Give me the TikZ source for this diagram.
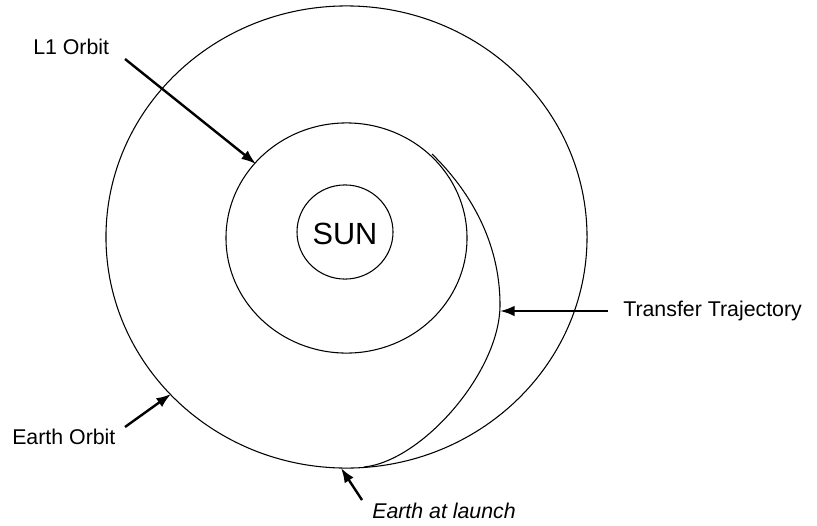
\documentclass[tikz,border=0pt]{standalone}
\usepackage{fontspec}
\setmainfont{Liberation Sans}
\usetikzlibrary{arrows.meta}
\begin{document}
\begin{tikzpicture}[x=0.75pt,y=-0.75pt,
  orbit/.style={draw=black,line width=0.8pt},
  pointer/.style={draw=black,line width=1.8pt,-{Latex[length=11pt,width=8pt]}},
  lbl/.style={inner sep=0pt,anchor=west,font=\fontsize{16}{19}\selectfont}]
\useasboundingbox (0,0) rectangle (817,525);
\coordinate (c) at (346.5,237);
\draw[orbit] (c) ellipse [x radius=180.4pt, y radius=173.3pt];
\draw[orbit] (346.5,238) ellipse [x radius=90.4pt, y radius=86.3pt];
\draw[orbit] (345,232) ellipse [x radius=36pt, y radius=35.3pt];
\node[inner sep=0pt,font=\fontsize{23}{26}\selectfont] (sun) at (345,234) {SUN};
% transfer trajectory
\coordinate (ts) at (432,154);
\coordinate (tm) at (500,305);
\coordinate (te) at (364,467);
\draw[orbit] (ts) .. controls (468,189) and (500,240) .. (tm)
  .. controls (500,372) and (422,461) .. (te);
% labels
\node[lbl] (l1) at (33,47) {L1 Orbit};
\node[lbl] (eo) at (12,437) {Earth Orbit};
\node[lbl] (tt) at (623,311) {Transfer Trajectory};
\node[lbl,font=\fontsize{16}{19}\selectfont\itshape] (el) at (372,511) {Earth at launch};
% arrow ends
\coordinate (l1a) at (125,59);   \coordinate (l1b) at (256,164);
\coordinate (eoa) at (125,427);  \coordinate (eob) at (171,394);
\coordinate (tta) at (608,311);  \coordinate (ttb) at (500,311);
\coordinate (ela) at (362,500);  \coordinate (elb) at (341,468);
\draw[pointer] (l1a) -- (l1b);
\draw[pointer] (eoa) -- (eob);
\draw[pointer] (tta) -- (ttb);
\draw[pointer] (ela) -- (elb);
\end{tikzpicture}
\end{document}
